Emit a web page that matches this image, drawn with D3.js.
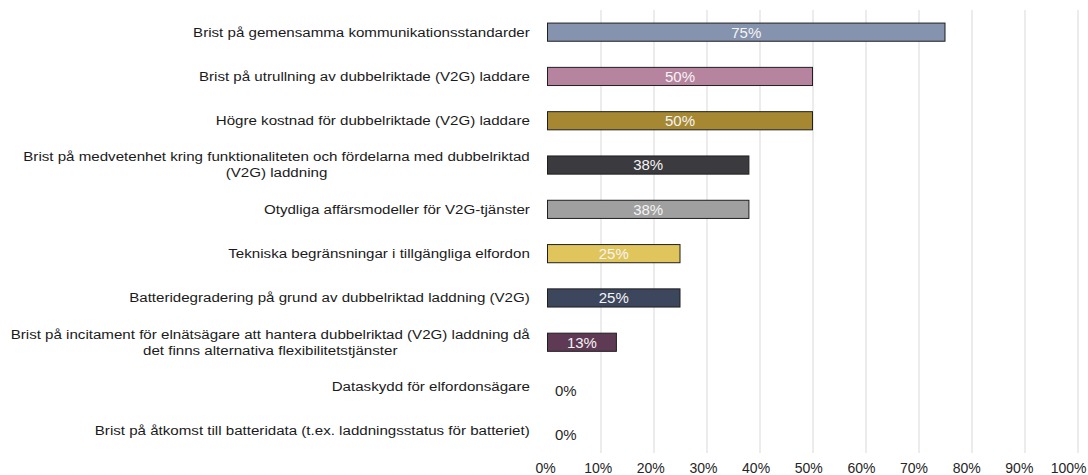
<!DOCTYPE html>
<html>
<head>
<meta charset="utf-8">
<script src="https://cdn.jsdelivr.net/npm/d3@7"></script>
<style>
  body { margin: 0; background: #fff; }
  svg { display: block; font-family: "Liberation Sans", Arial, sans-serif; }
</style>
</head>
<body>
<svg id="chart" width="1088" height="475"></svg>
<script>
// categories, top to bottom ("|" marks a line break)
var categories = [
    "Brist på gemensamma kommunikationsstandarder",
    "Brist på utrullning av dubbelriktade (V2G) laddare",
    "Högre kostnad för dubbelriktade (V2G) laddare",
    "Brist på medvetenhet kring funktionaliteten och fördelarna med dubbelriktad|(V2G) laddning",
    "Otydliga affärsmodeller för V2G-tjänster",
    "Tekniska begränsningar i tillgängliga elfordon",
    "Batteridegradering på grund av dubbelriktad laddning (V2G)",
    "Brist på incitament för elnätsägare att hantera dubbelriktad (V2G) laddning då|det finns alternativa flexibilitetstjänster",
    "Dataskydd för elfordonsägare",
    "Brist på åtkomst till batteridata (t.ex. laddningsstatus för batteriet)"
];
var values = [0.75, 0.50, 0.50, 0.38, 0.38, 0.25, 0.25, 0.13, 0, 0];
var colours = ["#8593ae", "#b7849f", "#a68832", "#3b3a3e", "#a0a0a0",
               "#e0c55d", "#3c465d", "#5e3a55", "#888888", "#888888"];
var ticks = [0, 0.1, 0.2, 0.3, 0.4, 0.5, 0.6, 0.7, 0.8, 0.9, 1.0];

var svg = d3.select("#chart");
var margin = {top: 10, left: 547.5, right: 10.5, bottom: 22};
var width = 1088 - margin.left - margin.right,
    height = 475 - margin.top - margin.bottom;

var x = d3.scaleLinear().domain([0, 1]).range([0, width]);
// tick labels sit a little left of their gridlines
var xLabel = d3.scaleLinear().domain([0, 1]).range([-2.5, width - 6]);
var y = d3.scaleBand().domain(d3.range(categories.length)).range([0, height])
    .paddingInner(0.59).paddingOuter(0.295);

var g = svg.append("g").attr("transform", "translate(" + margin.left + "," + margin.top + ")");

// gridlines (skip 0)
g.selectAll(".grid").data(ticks.filter(function(d) { return d > 0; }))
    .enter().append("line")
    .attr("class", "grid")
    .attr("x1", function(d) { return Math.round(x(d)) + 0.5; })
    .attr("x2", function(d) { return Math.round(x(d)) + 0.5; })
    .attr("y1", 0).attr("y2", height)
    .attr("stroke", "#d9d9d9").attr("stroke-width", 1);

// x axis labels
g.append("g").attr("transform", "translate(0," + height + ")")
    .call(d3.axisBottom(xLabel).tickValues(ticks).tickSize(0).tickPadding(10)
        .tickFormat(function(d) { return Math.round(d * 100) + "%"; }))
    .call(function(a) {
        a.select(".domain").remove();
        a.selectAll("text").attr("font-size", 14).attr("fill", "#262626")
            .attr("font-family", "Liberation Sans, Arial, sans-serif");
        // keep the last label inside the picture
        a.selectAll(".tick").filter(function(d) { return d === 1; })
            .select("text").attr("text-anchor", "end").attr("x", width + 8.5 - xLabel(1));
    });

// bars and value labels
values.forEach(function(d, i) {
    var row = g.append("g").attr("class", "row");
    if (d > 0) {
        row.append("rect")
            .attr("x", 0)
            .attr("y", y(i))
            .attr("height", y.bandwidth())
            .attr("width", x(d))
            .attr("fill", colours[i])
            .attr("stroke", "#1f1f1f").attr("stroke-width", 1);
        row.append("text")
            .attr("x", x(d) / 2)
            .attr("y", y(i) + y.bandwidth() / 2)
            .attr("dy", "0.36em")
            .attr("text-anchor", "middle")
            .attr("font-size", 15)
            .attr("fill", "#f4f4f4")
            .text(Math.round(d * 100) + "%");
    } else {
        row.append("text")
            .attr("x", 7.5)
            .attr("y", y(i) + y.bandwidth() / 2)
            .attr("dy", "0.6em")
            .attr("font-size", 15)
            .attr("fill", "#262626")
            .text("0%");
    }
});

// category labels: right-aligned block, lines centred, text a bit wide
var labelRight = -17.5, stretch = 1.21, lh = 16;
categories.forEach(function(cat, i) {
    var lines = cat.split("|");
    var lg = g.append("g");
    var t = lg.append("text")
        .attr("font-size", 12.5)
        .attr("fill", "#1a1a1a")
        .attr("text-anchor", "middle");
    var cy = y(i) + y.bandwidth() / 2;
    var y0 = cy - (lines.length - 1) * lh / 2;
    lines.forEach(function(line, j) {
        t.append("tspan").attr("x", 0).attr("y", y0 + j * lh).attr("dy", "0.35em").text(line);
    });
    var maxW = d3.max(t.selectAll("tspan").nodes(), function(n) { return n.getComputedTextLength(); });
    lg.attr("transform", "translate(" + (labelRight - maxW * stretch / 2) + ",0) scale(" + stretch + ",1)");
});
</script>
</body>
</html>
